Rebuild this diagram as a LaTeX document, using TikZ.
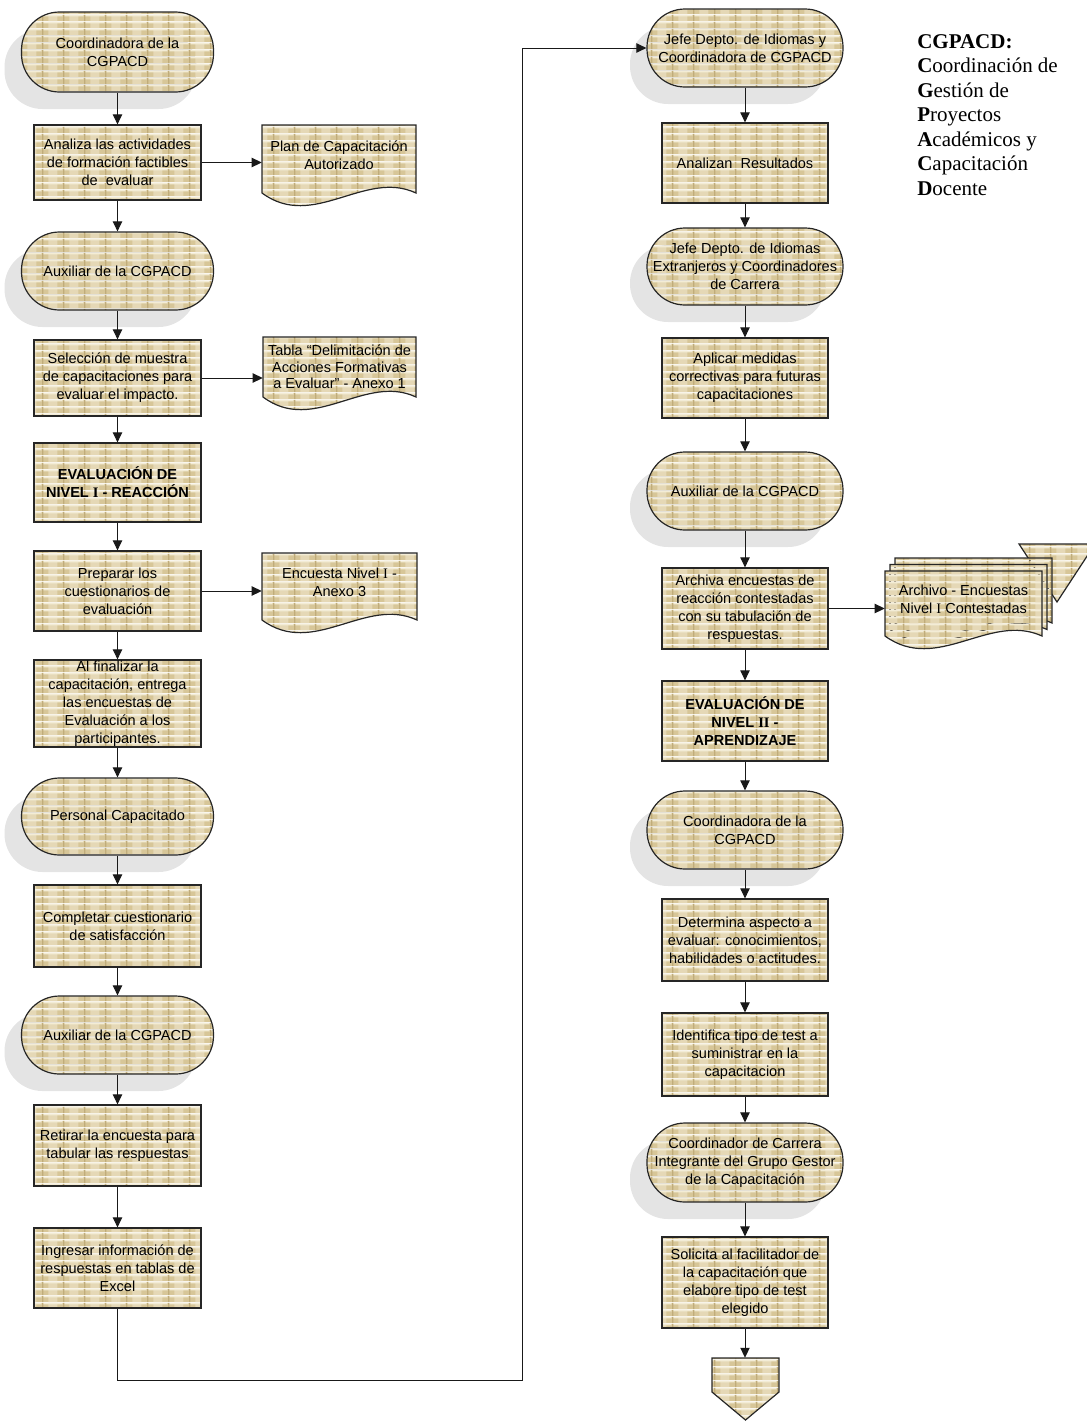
\documentclass[tikz,border=0pt]{standalone}
\usepackage{fontspec}
\setmainfont{Liberation Sans}
\newfontfamily\serifrn{Liberation Serif}
\usetikzlibrary{arrows.meta,shadows,patterns}
\newlength\pxu \setlength\pxu{0.75pt}
\newcommand\rn[1]{{\serifrn #1}}
\definecolor{wbase}{RGB}{215,198,152}
\definecolor{wdark}{RGB}{192,172,122}
\definecolor{wlight}{RGB}{243,236,214}
\definecolor{wmid}{RGB}{229,216,182}
\definecolor{shadowgray}{RGB}{228,228,228}
\pgfdeclarepatterninherentlycolored{weave}{\pgfpointorigin}{\pgfqpoint{15.75pt}{5.25pt}}{\pgfqpoint{15.75pt}{5.25pt}}{%
  \pgfsetfillcolor{wbase}\pgfpathrectangle{\pgfpointorigin}{\pgfqpoint{15.75pt}{5.25pt}}\pgfusepath{fill}%
  \pgfsetfillcolor{wmid}\pgfpathrectangle{\pgfqpoint{5pt}{0pt}}{\pgfqpoint{7pt}{5.25pt}}\pgfusepath{fill}%
  \pgfsetfillcolor{wlight}\pgfpathrectangle{\pgfqpoint{0pt}{4pt}}{\pgfqpoint{15.75pt}{1.25pt}}\pgfusepath{fill}%
  \pgfsetfillcolor{wdark}\pgfpathrectangle{\pgfpointorigin}{\pgfqpoint{1pt}{5.25pt}}\pgfusepath{fill}%
}
\newcommand\wavedoc[4]{%
  \pgfmathsetmacro\dca{#1+2*(#3-#1)/3}%
  \pgfmathsetmacro\dcb{#1+(#3-#1)/3}%
  \path[shapefill] (#1,#2) -- (#3,#2) -- (#3,#4) .. controls (\dca,#4-24) and (\dcb,#4+38) .. (#1,#4) -- cycle;}
\tikzset{
  shapefill/.style={draw=black!85, line width=0.9pt, pattern=weave},
  txt/.style={font=\fontsize{10.9pt}{13.5pt}\selectfont, text=black, align=center, inner sep=0pt},
  boldtxt/.style={font=\fontsize{10.9pt}{13.5pt}\selectfont\bfseries},
  term/.style={shapefill, txt, rectangle, rounded corners=28.5pt, minimum width=196\pxu, minimum height=78\pxu,
    general shadow={shadow xshift=-12.75pt, shadow yshift=-12.75pt, fill=shadowgray, draw=none}},
  proc/.style={shapefill, txt, rectangle, minimum width=167\pxu, minimum height=80\pxu},
  doclabel/.style={txt, minimum width=155\pxu},
  arr/.style={draw=black!90, line width=0.75pt, -{Triangle[length=7.5pt,width=7pt]}},
}
\begin{document}
\begin{tikzpicture}[x=0.75pt,y=-0.75pt]
\useasboundingbox (0,0) rectangle (1086,1421);
% ---------- left column ----------
\node[term, minimum width=192\pxu, minimum height=80\pxu] (L1) at (117.5,52) {Coordinadora de la\\CGPACD};
\node[proc, minimum height=75\pxu] (L2) at (117.5,162.5) {Analiza las actividades\\de formación factibles\\de\ \ evaluar};
\node[term, minimum width=192\pxu] (L3) at (117.5,271) {Auxiliar de la CGPACD};
\node[proc, minimum height=76\pxu] (L4) at (117.5,378) {Selección de muestra\\de capacitaciones para\\evaluar el impacto.};
\node[proc, boldtxt, minimum height=79\pxu] (L5) at (117.5,482.5) {EVALUACIÓN DE\\NIVEL \rn{I} - REACCIÓN};
\node[proc, minimum height=80\pxu] (L6) at (117.5,591) {Preparar los\\cuestionarios de\\evaluación};
\node[proc, minimum height=87\pxu] (L7) at (117.5,703.5) {Al finalizar la\\capacitación, entrega\\las encuestas de\\Evaluación a los\\participantes.};
\node[term, minimum width=192\pxu, minimum height=77\pxu] (L8) at (117.5,816.5) {Personal Capacitado};
\node[proc, minimum height=82\pxu] (L9) at (117.5,926) {Completar cuestionario\\de satisfacción};
\node[term, minimum width=192\pxu] (L10) at (117.5,1035) {Auxiliar de la CGPACD};
\node[proc, minimum height=81\pxu] (L11) at (117.5,1145.5) {Retirar la encuesta para\\tabular las respuestas};
\node[proc, minimum height=80\pxu] (L12) at (117.5,1268) {Ingresar información de\\respuestas en tablas de\\Excel};
% documents
\wavedoc{262}{125}{416}{193}
\node[doclabel, minimum width=154\pxu] (D1) at (339,155) {Plan de Capacitación\\Autorizado};
\wavedoc{263}{337}{416}{397}
\node[doclabel, minimum width=153\pxu, font=\fontsize{10.9pt}{12.5pt}\selectfont] (D2) at (339.5,367) {Tabla “Delimitación de\\Acciones Formativas\\a Evaluar” - Anexo 1};
\wavedoc{262}{553}{417}{620}
\node[doclabel, minimum width=155\pxu] (D3) at (339.5,582) {Encuesta Nivel \rn{I} -\\Anexo 3};
% left arrows
\draw[arr] (L1.south) -- (L2.north);
\draw[arr] (L2.south) -- (L3.north);
\draw[arr] (L3.south) -- (L4.north);
\draw[arr] (L4.south) -- (L5.north);
\draw[arr] (L5.south) -- (L6.north);
\draw[arr] (L6.south) -- (L7.north);
\draw[arr] (L7.south) -- (L8.north);
\draw[arr] (L8.south) -- (L9.north);
\draw[arr] (L9.south) -- (L10.north);
\draw[arr] (L10.south) -- (L11.north);
\draw[arr] (L11.south) -- (L12.north);
\draw[arr] (L2.east) -- (L2.east -| D1.west);
\draw[arr] (L4.east) -- (L4.east -| D2.west);
\draw[arr] (L6.east) -- (L6.east -| D3.west);
% ---------- right column ----------
\node[term] (R1) at (745,48) {Jefe Depto. de Idiomas y\\Coordinadora de CGPACD};
\node[proc, minimum width=166\pxu] (R2) at (745,163) {Analizan\ \ Resultados};
\node[term, minimum height=77\pxu] (R3) at (745,266.5) {Jefe Depto. de Idiomas\\Extranjeros y Coordinadores\\de Carrera};
\node[proc, minimum width=166\pxu] (R4) at (745,378) {Aplicar medidas\\correctivas para futuras\\capacitaciones};
\node[term] (R5) at (745,491) {Auxiliar de la CGPACD};
\node[proc, minimum width=166\pxu, minimum height=81\pxu] (R6) at (745,608.5) {Archiva encuestas de\\reacción contestadas\\con su tabulación de\\respuestas.};
\node[proc, boldtxt, minimum width=166\pxu] (R7) at (745,721) {EVALUACIÓN DE\\NIVEL \rn{II} -\\APRENDIZAJE};
\node[term] (R8) at (745,830) {Coordinadora de la\\CGPACD};
\node[proc, minimum width=166\pxu, minimum height=82\pxu] (R9) at (745,940) {Determina aspecto a\\evaluar: conocimientos,\\habilidades o actitudes.};
\node[proc, minimum width=166\pxu, minimum height=83\pxu] (R10) at (745,1054.5) {Identifica tipo de test a\\suministrar en la\\capacitacion};
\node[term, minimum height=79\pxu] (R11) at (745,1162.5) {Coordinador de Carrera\\Integrante del Grupo Gestor\\de la Capacitación};
\node[proc, minimum width=166\pxu, minimum height=91\pxu] (R12) at (745,1282.5) {Solicita al facilitador de\\la capacitación que\\elabore tipo de test\\elegido};
% off-page connector at bottom
\path[shapefill] (712,1358) -- (779,1358) -- (779,1392) -- (745.5,1420) -- (712,1392) -- cycle;
\node[inner sep=0pt, minimum width=67\pxu, minimum height=62\pxu] (R13) at (745.5,1389) {};
% off-page connector top right (behind the pages)
\path[shapefill] (1019,544) -- (1095,544) -- (1057,602) -- cycle;
% multi-document
\wavedoc{895}{558}{1052}{623}
\wavedoc{890}{564.5}{1047}{629.5}
\wavedoc{885}{571}{1042}{636}
\node[doclabel, minimum width=157\pxu] (M) at (963.5,599) {Archivo - Encuestas\\Nivel \rn{I} Contestadas};
% right arrows
\draw[arr] (R1.south) -- (R2.north);
\draw[arr] (R2.south) -- (R3.north);
\draw[arr] (R3.south) -- (R4.north);
\draw[arr] (R4.south) -- (R5.north);
\draw[arr] (R5.south) -- (R6.north);
\draw[arr] (R6.south) -- (R7.north);
\draw[arr] (R7.south) -- (R8.north);
\draw[arr] (R8.south) -- (R9.north);
\draw[arr] (R9.south) -- (R10.north);
\draw[arr] (R10.south) -- (R11.north);
\draw[arr] (R11.south) -- (R12.north);
\draw[arr] (R12.south) -- (R12.south |- R13.north);
\draw[arr] (R6.east) -- (R6.east -| M.west);
% long connector
\coordinate (turn) at (522,1380);
\draw[arr] (L12.south) |- (turn) |- (R1.west);
% legend
\node[anchor=north west, inner sep=0pt, align=left, font=\serifrn\fontsize{15.75pt}{18.4pt}\selectfont] (LG) at (917,34)
 {\textbf{CGPACD:}\\\textbf{C}oordinación de\\\textbf{G}estión de\\\textbf{P}royectos\\\textbf{A}cadémicos y\\\textbf{C}apacitación\\\textbf{D}ocente};
\end{tikzpicture}
\end{document}
